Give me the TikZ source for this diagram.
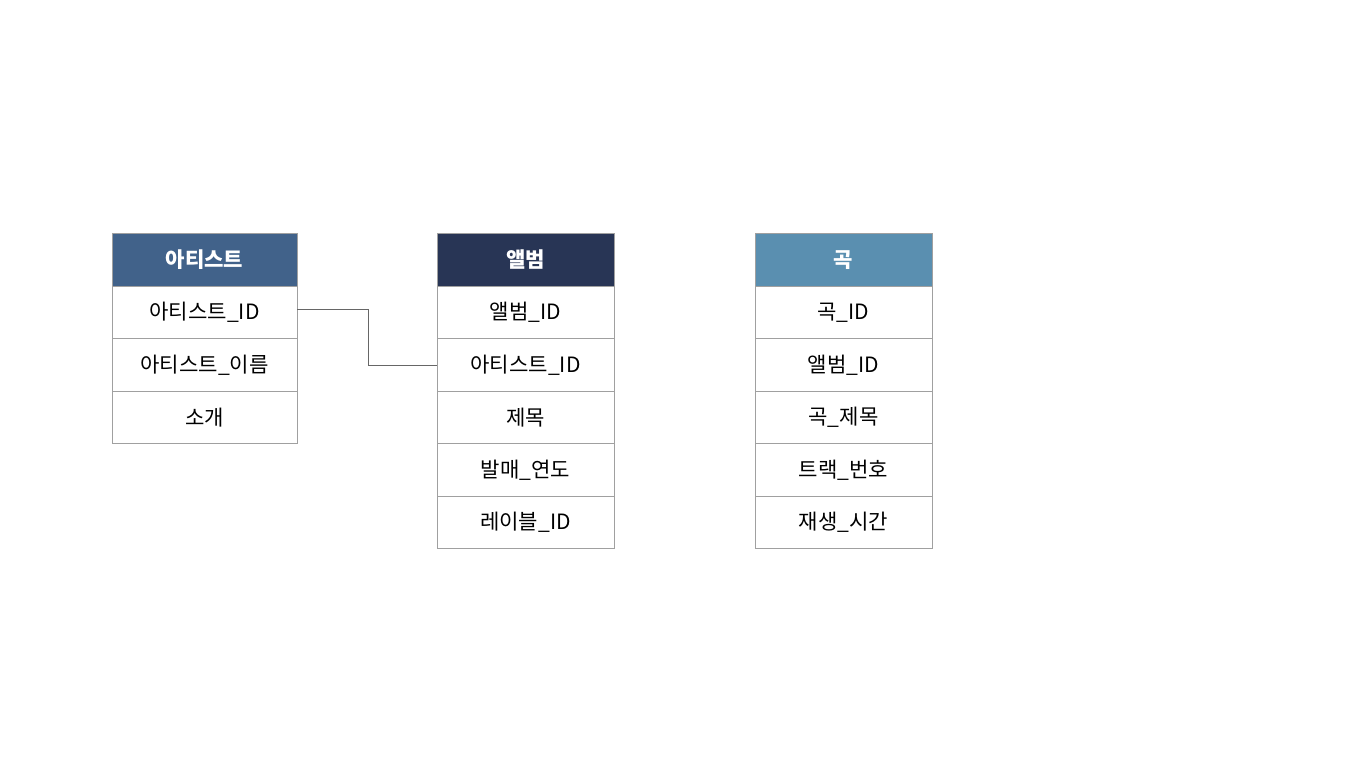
\documentclass[tikz,border=0pt]{standalone}
\usepackage{fontspec}
\newfontfamily\kr{Noto Sans CJK KR}
\usetikzlibrary{positioning}
\definecolor{artistblue}{HTML}{41628A}
\definecolor{albumnavy}{HTML}{283555}
\definecolor{songblue}{HTML}{5A8FB0}
\definecolor{cellgray}{HTML}{A0A0A0}
\begin{document}
\begin{tikzpicture}[
    node distance=0pt,
    cell/.style={rectangle, draw=cellgray, fill=white, outer sep=0pt, minimum height=1.05cm, align=center, font=\kr\fontsize{12}{14}\selectfont},
    head/.style={cell, text=white, font=\kr\bfseries\fontsize{12}{14}\selectfont},
    link/.style={draw=black!60, thin}
]
\useasboundingbox (0,0) rectangle (27.4,15.36);

% Artist
\node[head, fill=artistblue, minimum width=3.7cm] (artist) at (4.09,10.16) {아티스트};
\node[cell, minimum width=3.7cm, below=of artist] (a1) {아티스트\_ID};
\node[cell, minimum width=3.7cm, below=of a1] (a2) {아티스트\_이름};
\node[cell, minimum width=3.7cm, below=of a2] (a3) {소개};

% Album
\node[head, fill=albumnavy, minimum width=3.54cm] (album) at (10.51,10.16) {앨범};
\node[cell, minimum width=3.54cm, below=of album] (b1) {앨범\_ID};
\node[cell, minimum width=3.54cm, below=of b1] (b2) {아티스트\_ID};
\node[cell, minimum width=3.54cm, below=of b2] (b3) {제목};
\node[cell, minimum width=3.54cm, below=of b3] (b4) {발매\_연도};
\node[cell, minimum width=3.54cm, below=of b4] (b5) {레이블\_ID};

% Song
\node[head, fill=songblue, minimum width=3.54cm] (song) at (16.87,10.16) {곡};
\node[cell, minimum width=3.54cm, below=of song] (c1) {곡\_ID};
\node[cell, minimum width=3.54cm, below=of c1] (c2) {앨범\_ID};
\node[cell, minimum width=3.54cm, below=of c2] (c3) {곡\_제목};
\node[cell, minimum width=3.54cm, below=of c3] (c4) {트랙\_번호};
\node[cell, minimum width=3.54cm, below=of c4] (c5) {재생\_시간};

% Relation
\draw[link] ([yshift=0.06cm]a1.east) -- ++(1.42,0) |- (b2.west);
\end{tikzpicture}
\end{document}
